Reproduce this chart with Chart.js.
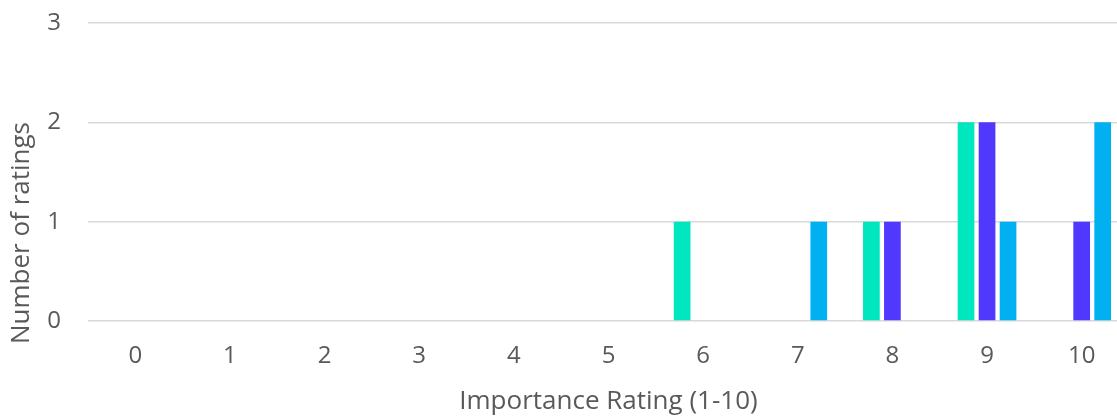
<!DOCTYPE html>
<html>
<head>
<meta charset="utf-8">
<script src="https://cdn.jsdelivr.net/npm/chart.js@4.4.0/dist/chart.umd.min.js"></script>
<style>
  html, body { margin: 0; padding: 0; background: #fff; overflow: hidden; }
  /* the reference plot runs a little past the right edge, so the canvas is wider than the window */
  #wrap { width: 1129px; height: 417px; }
</style>
</head>
<body>
<div id="wrap"><canvas id="grafico"></canvas></div>
<script>
const ratings = ['0', '1', '2', '3', '4', '5', '6', '7', '8', '9', '10'];
const serieA = [0, 0, 0, 0, 0, 0, 1, 0, 1, 2, 0];
const serieB = [0, 0, 0, 0, 0, 0, 0, 0, 1, 2, 1];
const serieC = [0, 0, 0, 0, 0, 0, 0, 1, 0, 1, 2];
const yTicks = [0, 1, 2, 3];

const cinza = '#595959';
const fonte = "'Open Sans', 'Liberation Sans', sans-serif";

// y title sits lower than the plot centre in the reference, so draw it by hand
const tituloY = {
  id: 'tituloY',
  afterDraw(chart) {
    const c = chart.ctx;
    const area = chart.chartArea;
    c.save();
    c.translate(22, area.bottom - 88);
    c.rotate(-Math.PI / 2);
    c.fillStyle = cinza;
    c.font = "26px " + fonte;
    c.textAlign = 'center';
    c.textBaseline = 'middle';
    c.fillText('Number of ratings', 0, 0);
    c.restore();
  }
};

const ctx = document.getElementById('grafico').getContext('2d');
const meuGrafico = new Chart(ctx, {
  type: 'bar',
  data: {
    labels: ratings,
    datasets: [
      { label: 'A', data: serieA, backgroundColor: '#00E6BE' },
      { label: 'B', data: serieB, backgroundColor: '#5038FF' },
      { label: 'C', data: serieC, backgroundColor: '#00B0F0' }
    ]
  },
  plugins: [tituloY],
  options: {
    responsive: true,
    maintainAspectRatio: false,
    animation: false,
    categoryPercentage: 0.666,
    barPercentage: 0.795,
    layout: { padding: { left: 5, right: 0, top: 23, bottom: 0 } },
    plugins: {
      legend: { display: false },
      tooltip: { enabled: false }
    },
    scales: {
      x: {
        afterFit: (axis) => { axis.height = 96; },
        grid: { display: false, drawTicks: false },
        border: { display: false },
        ticks: { color: cinza, font: { family: fonte, size: 24, lineHeight: 0.7 }, padding: 27 },
        title: {
          display: true,
          text: 'Importance Rating (1-10)',
          color: cinza,
          font: { family: fonte, size: 26, lineHeight: 1.0 },
          padding: { top: 0, bottom: 2 }
        }
      },
      y: {
        min: 0,
        max: 3,
        afterBuildTicks: (axis) => { axis.ticks = yTicks.map(v => ({ value: v })); },
        afterFit: (axis) => {
          // fixed width so the plot starts where the reference does
          axis.width = 83;
          axis.paddingTop = 14;
          axis.paddingBottom = 14;
        },
        grid: { color: '#D9D9D9', lineWidth: 1.5, drawTicks: false },
        border: { display: false },
        ticks: { color: cinza, font: { family: fonte, size: 24 }, padding: 27 },
        title: { display: false }
      }
    }
  }
});
</script>
</body>
</html>
